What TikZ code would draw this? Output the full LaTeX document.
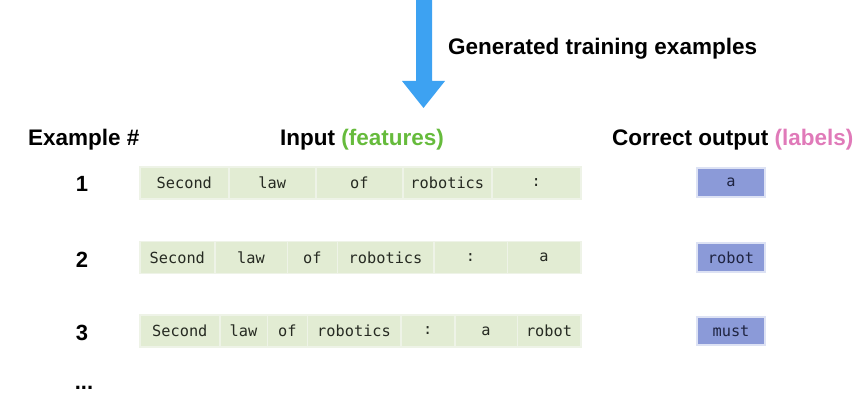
\documentclass[tikz,border=0pt]{standalone}
\usepackage{fontspec}
\setmainfont{Liberation Sans}
\newfontfamily\monofont{DejaVu Sans Mono}
\definecolor{cellfill}{HTML}{E2ECD3}
\definecolor{celledge}{HTML}{EEF3E7}
\definecolor{outfill}{HTML}{8B9AD8}
\definecolor{outedge}{HTML}{DDE2F4}
\definecolor{arrowblue}{HTML}{3DA2F2}
\definecolor{featgreen}{HTML}{66BB3C}
\definecolor{labpink}{HTML}{E07AB9}
\definecolor{celltext}{HTML}{262A22}
\definecolor{outtext}{HTML}{1E2340}
\tikzset{
  head/.style={font=\fontsize{22.5}{26}\selectfont\bfseries, inner sep=0pt, anchor=base west},
  num/.style={font=\fontsize{22}{26}\selectfont\bfseries, inner sep=0pt, anchor=base},
  cell/.style={draw=celledge, line width=1.6pt, fill=cellfill, inner sep=0pt, anchor=west,
    font=\monofont\fontsize{15.3}{18}\selectfont, text=celltext},
  outbox/.style={draw=outedge, line width=1.4pt, fill=outfill, inner sep=0pt,
    minimum width=68pt, font=\monofont\fontsize{15.3}{18}\selectfont, text=outtext},
}
% \mkcell{name}{left}{right}{ycenter}{height}{text}
\newcommand{\mkcell}[6]{%
  \pgfmathsetmacro{\cw}{#3-#2}%
  \node[cell, minimum width=\cw pt, minimum height=#5pt] (#1) at (#2,#4) {#6};%
}
\begin{document}
\begin{tikzpicture}[x=1pt,y=-1pt]
\useasboundingbox (0,0) rectangle (866,403);
% arrow
\fill[arrowblue] (416,0) -- (432,0) -- (432,81) -- (445,81) -- (423.5,108) -- (402,81) -- (416,81) -- cycle;
\node[head] (gen) at (448,55) {Generated training examples};
% headers
\node[head] (hex) at (28,146) {Example \#};
\node[head] (hin) at (280,146) {Input \textcolor{featgreen}{(features)}};
\node[head] (hout) at (612,146) {Correct output \textcolor{labpink}{(labels)}};
% numbers
\node[num] (n1) at (82,192) {1};
\node[num] (n2) at (82,267) {2};
\node[num] (n3) at (82,340) {3};
\node[num] (n4) at (84,389) {...};
% row 1
\mkcell{r1a}{139}{228}{183}{32}{Second}
\mkcell{r1b}{228}{315}{183}{32}{law}
\mkcell{r1c}{315}{402}{183}{32}{of}
\mkcell{r1d}{402}{491}{183}{32}{robotics}
\mkcell{r1e}{491}{580}{183}{32}{:}
% row 2
\mkcell{r2a}{139}{214}{257.5}{32}{Second}
\mkcell{r2b}{214}{286.5}{257.5}{32}{law}
\mkcell{r2c}{286.5}{336.5}{257.5}{32}{of}
\mkcell{r2d}{336.5}{433}{257.5}{32}{robotics}
\mkcell{r2e}{433}{506.5}{257.5}{32}{:}
\mkcell{r2f}{506.5}{580}{257.5}{32}{a}
% row 3
\mkcell{r3a}{139}{219}{331}{32}{Second}
\mkcell{r3b}{219}{266.5}{331}{32}{law}
\mkcell{r3c}{266.5}{306.5}{331}{32}{of}
\mkcell{r3d}{306.5}{400}{331}{32}{robotics}
\mkcell{r3e}{400}{454}{331}{32}{:}
\mkcell{r3f}{454}{516.5}{331}{32}{a}
\mkcell{r3g}{516.5}{580}{331}{32}{robot}
% outputs
\node[outbox, minimum height=29pt] (o1) at (731,182.5) {a};
\node[outbox, minimum height=29pt] (o2) at (731,257.5) {robot};
\node[outbox, minimum height=28pt] (o3) at (731,331) {must};
\end{tikzpicture}
\end{document}
